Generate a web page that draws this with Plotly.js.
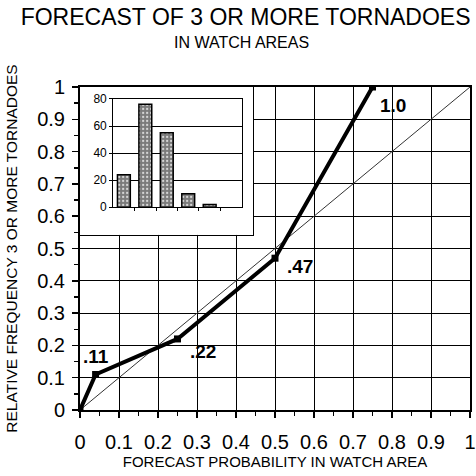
<!DOCTYPE html>
<html>
<head>
<meta charset="utf-8">
<script src="https://cdn.plot.ly/plotly-3.0.1.min.js"></script>
<style>html,body{margin:0;padding:0;background:#fff;}#chart{width:476px;height:476px;}</style>
</head>
<body>
<div id="chart"></div>
<script>
// ---- data ----
const forecastProb = [0, 0.04, 0.25, 0.5, 0.75];
const observedFreq = [0, 0.11, 0.22, 0.47, 1.0];
const pointLabels = ['', '.11', '.22', '.47', '1.0'];
const perfectX = [0, 1];
const perfectY = [0, 1];
const insetBins = [0, 1, 2, 3, 4];
const insetCounts = [24, 76, 55, 10, 2];

// ---- label offsets (pixels) ----
const labelShiftX = [0, 0, 25, 25, 20];
const labelShiftY = [0, 18, -13, -8, -18];

const FONT = 'Liberation Sans, Arial, sans-serif';

const traces = [
  { x: perfectX, y: perfectY, type: 'scatter', mode: 'lines',
    line: { color: '#333', width: 1 }, xaxis: 'x', yaxis: 'y', hoverinfo: 'skip' },
  { x: forecastProb, y: observedFreq, type: 'scatter', mode: 'lines+markers',
    line: { color: '#000', width: 4 }, marker: { symbol: 'square', size: 7, color: '#000' },
    xaxis: 'x', yaxis: 'y' },
  // empty trace to create inset frame subplot
  { x: [], y: [], type: 'scatter', mode: 'markers', xaxis: 'x2', yaxis: 'y2', hoverinfo: 'skip' },
  { x: insetBins, y: insetCounts, type: 'bar', xaxis: 'x3', yaxis: 'y3', width: 0.6,
    marker: { color: '#7a7a7a', line: { color: '#000', width: 1.5 },
      pattern: { shape: '.', fgcolor: '#d8d8d8', bgcolor: '#7a7a7a', size: 4, solidity: 0.25 } } }
];

const annotations = pointLabels.map((t, i) => ({
  text: t, x: forecastProb[i], y: observedFreq[i], xref: 'x', yref: 'y',
  showarrow: false, xshift: labelShiftX[i], yshift: labelShiftY[i],
  font: { family: FONT, size: 19, color: '#000', weight: 'bold' }
})).filter(a => a.text !== '');

annotations.push({
  text: 'IN WATCH AREAS', xref: 'paper', yref: 'paper', x: 0.415, y: 1.139,
  xanchor: 'center', yanchor: 'middle', showarrow: false,
  font: { family: FONT, size: 16, color: '#000' }
});

const layout = {
  width: 476, height: 476,
  margin: { l: 80, r: 6, t: 87, b: 66 },
  paper_bgcolor: '#fff', plot_bgcolor: '#fff',
  showlegend: false,
  title: { text: 'FORECAST OF 3 OR MORE TORNADOES', xref: 'container', yref: 'container',
    x: 0.516, y: 1 - 17 / 476, xanchor: 'center', yanchor: 'middle',
    font: { family: FONT, size: 23, color: '#000' } },
  xaxis: { domain: [0, 1], range: [0, 1], dtick: 0.1, tick0: 0,
    showgrid: true, gridcolor: '#000', gridwidth: 1, zeroline: false,
    showline: true, linecolor: '#000', linewidth: 2, mirror: true,
    ticks: 'outside', ticklen: 6, tickwidth: 1.5, tickcolor: '#000',
    minor: { dtick: 0.05, ticks: 'outside', ticklen: 4, tickcolor: '#000', showgrid: false },
    ticklabelstandoff: 7,
    tickfont: { family: FONT, size: 20, color: '#000' },
    title: { text: 'FORECAST PROBABILITY IN WATCH AREA', standoff: 4,
      font: { family: FONT, size: 15, color: '#000' } } },
  yaxis: { domain: [0, 1], range: [0, 1], dtick: 0.1, tick0: 0,
    showgrid: true, gridcolor: '#000', gridwidth: 1, zeroline: false,
    showline: true, linecolor: '#000', linewidth: 2, mirror: true,
    ticks: 'outside', ticklen: 6, tickwidth: 1.5, tickcolor: '#000',
    minor: { dtick: 0.05, ticks: 'outside', ticklen: 4, tickcolor: '#000', showgrid: false },
    ticklabelstandoff: 3,
    tickfont: { family: FONT, size: 20, color: '#000' },
    title: { text: 'RELATIVE FREQUENCY 3 OR MORE TORNADOES', standoff: 16,
      font: { family: FONT, size: 15.5, color: '#000' } } },
  // inset outer frame
  xaxis2: { domain: [0, 0.444], anchor: 'y2', range: [0, 1], showgrid: false, zeroline: false,
    showticklabels: false, ticks: '', showline: true, mirror: true, linecolor: '#000', linewidth: 1 },
  yaxis2: { domain: [0.542, 1], anchor: 'x2', range: [0, 1], showgrid: false, zeroline: false,
    showticklabels: false, ticks: '', showline: true, mirror: true, linecolor: '#000', linewidth: 1 },
  // inset bar chart
  xaxis3: { domain: [0.085, 0.415], anchor: 'y3', range: [-0.5, 5.5],
    tickvals: [0.5, 1.5, 2.5, 3.5, 4.5], showticklabels: false, ticks: 'outside', ticklen: 3,
    tickcolor: '#000', showgrid: false, zeroline: false,
    showline: true, mirror: true, linecolor: '#000', linewidth: 1 },
  yaxis3: { domain: [0.628, 0.963], anchor: 'x3', range: [0, 80], dtick: 20,
    showgrid: true, gridcolor: '#000', gridwidth: 1, zeroline: false,
    ticks: 'outside', ticklen: 3, tickcolor: '#000',
    showline: true, mirror: true, linecolor: '#000', linewidth: 1,
    tickfont: { family: FONT, size: 12, color: '#000' } },
  annotations: annotations
};

Plotly.newPlot('chart', traces, layout, { staticPlot: true, displayModeBar: false });
</script>
</body>
</html>
